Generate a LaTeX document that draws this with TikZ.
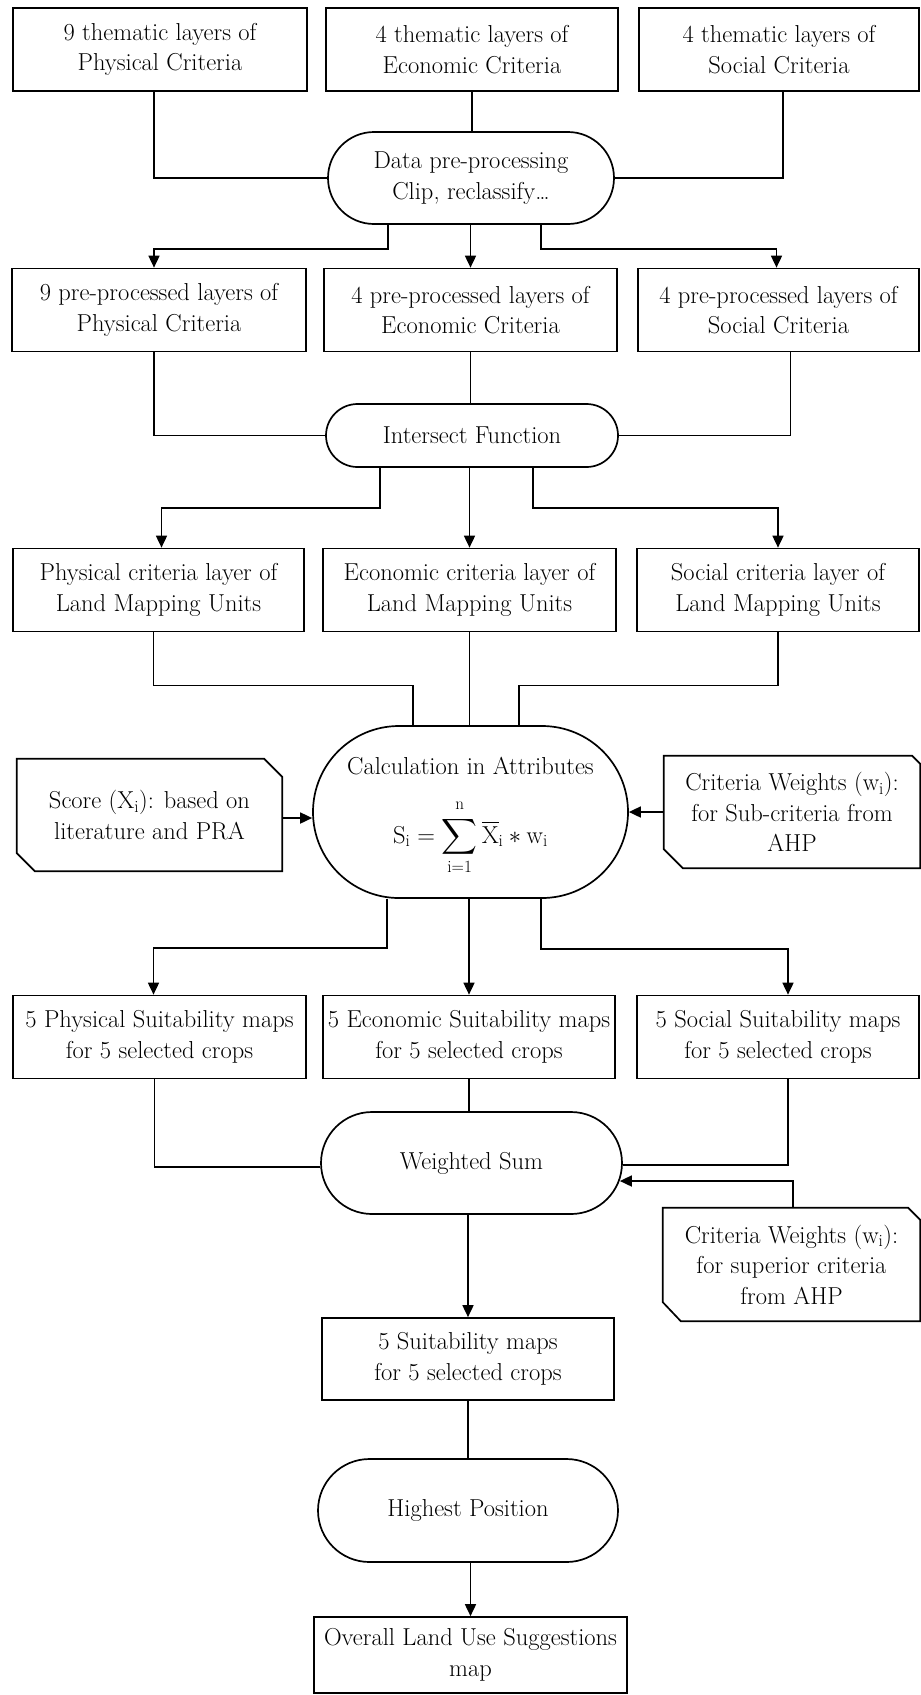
\RequirePackage{fix-cm}
\documentclass[tikz,border=0pt]{standalone}
\usepackage{exscale}
\usepackage{fontspec}
\usetikzlibrary{arrows.meta,calc}
\begin{document}
\begin{tikzpicture}[x=1pt,y=-1pt,
  every node/.style={font=\fontsize{24.5}{30.5}\selectfont, align=center, inner sep=0pt},
  box/.style={draw, line width=1.7pt, minimum height=83pt},
  term/.style={draw, line width=1.7pt},
  line/.style={line width=1.7pt},
  arr/.style={line width=1.7pt, -{Triangle[width=11pt,length=12pt]}},
  cardline/.style={line width=1.7pt, line join=miter}
]
\useasboundingbox (0,0) rectangle (921,1695);

% Row 1
\node[box, minimum width=294pt] (a1) at (160,49.5) {9 thematic layers of\\Physical Criteria};
\node[box, minimum width=292pt] (b1) at (472,49.5) {4 thematic layers of\\Economic Criteria};
\node[box, minimum width=280pt] (c1) at (779,49.5) {4 thematic layers of\\Social Criteria};

\node[term, minimum width=286pt, minimum height=92pt, rounded corners=46pt] (dp) at (471,178) {Data pre-processing\\Clip, reclassify\ldots};

% Row 2
\node[box, minimum width=294pt] (a2) at (159,310) {9 pre-processed layers of\\Physical Criteria};
\node[box, minimum width=293pt] (b2) at (470.5,310) {4 pre-processed layers of\\Economic Criteria};
\node[box, minimum width=281pt] (c2) at (778.5,310) {4 pre-processed layers of\\Social Criteria};

\node[term, minimum width=292pt, minimum height=63pt, rounded corners=31.5pt] (isf) at (472,435.5) {Intersect Function};

% Row 3
\node[box, minimum width=291pt] (a3) at (158.5,590) {Physical criteria layer of\\Land Mapping Units};
\node[box, minimum width=293pt] (b3) at (469.5,590) {Economic criteria layer of\\Land Mapping Units};
\node[box, minimum width=282pt] (c3) at (778,590) {Social criteria layer of\\Land Mapping Units};

\node[term, minimum width=315pt, minimum height=172pt, rounded corners=86pt] (cia) at (470.5,812) {};
\node (ciat) at (470.5,766) {Calculation in Attributes};
\node (ciaf) at (470.5,837)
  {$\displaystyle \mathrm{S_i} = \sum_{\mathrm{i=1}}^{\raisebox{3pt}{$\scriptstyle\mathrm{n}$}} \overline{\mathrm{X}}_{\mathrm{i}} * \mathrm{w_i}$};

% Cards
\node[minimum width=265pt, minimum height=112pt] (sc) at (149.5,815) {Score (X\textsubscript{i}): based on\\literature and PRA};
\draw[cardline] (sc.north west) -- ([xshift=-18pt]sc.north east) -- ([yshift=-18pt]sc.north east)
  -- (sc.south east) -- ([xshift=18pt]sc.south west) -- ([yshift=18pt]sc.south west) -- cycle;

\node[minimum width=256pt, minimum height=112pt] (cw1) at (792,812) {Criteria Weights (w\textsubscript{i}):\\for Sub-criteria from\\AHP};
\draw[cardline] (cw1.north west) -- ([xshift=-8pt]cw1.north east) -- ([yshift=-8pt]cw1.north east)
  -- (cw1.south east) -- ([xshift=19pt]cw1.south west) -- ([yshift=19pt]cw1.south west) -- cycle;

% Row 4
\node[box, minimum width=293pt] (a4) at (159.5,1037) {5 Physical Suitability maps\\for 5 selected crops};
\node[box, minimum width=292pt] (b4) at (469,1037) {5 Economic Suitability maps\\for 5 selected crops};
\node[box, minimum width=282pt] (c4) at (778,1037) {5 Social Suitability maps\\for 5 selected crops};

\node[term, minimum width=301pt, minimum height=102pt, rounded corners=51pt] (ws) at (471.5,1163) {Weighted Sum};

\node[minimum width=257pt, minimum height=113pt] (cw2) at (791.5,1264.5) {Criteria Weights (w\textsubscript{i}):\\for superior criteria\\from AHP};
\draw[cardline] (cw2.north west) -- ([xshift=-12pt]cw2.north east) -- ([yshift=-12pt]cw2.north east)
  -- (cw2.south east) -- ([xshift=18pt]cw2.south west) -- ([yshift=19pt]cw2.south west) -- cycle;

\node[box, minimum width=292pt, minimum height=82pt] (s5) at (468,1359) {5 Suitability maps\\for 5 selected crops};
\node[term, minimum width=300pt, minimum height=103pt, rounded corners=51.5pt] (hp) at (468,1510.5) {Highest Position};
\node[box, minimum width=313pt, minimum height=76pt] (ov) at (470.5,1655) {Overall Land Use Suggestions\\map};

% Connectors: row 1 -> data pre-processing
\draw[line] ([xshift=-6pt]a1.south) |- (dp.west);
\draw[line] (b1.south) -- (b1.south |- dp.north);
\draw[line] ([xshift=4pt]c1.south) |- (dp.east);
% data pre-processing -> row 2
\draw[arr] ([xshift=-83pt]dp.south) -- ++(0,24) -| ([xshift=-5pt]a2.north);
\draw[arr] (dp.south -| b2.north) -- (b2.north);
\draw[arr] ([xshift=70pt]dp.south) -- ++(0,24) -| ([xshift=-2pt]c2.north);
% row 2 -> intersect
\draw[line] ([xshift=-5pt]a2.south) |- (isf.west);
\draw[line] (b2.south) -- (b2.south |- isf.north);
\draw[line] ([xshift=12pt]c2.south) |- (isf.east);
% intersect -> row 3
\draw[arr] ([xshift=-92pt]isf.south) -- ++(0,40) -| ([xshift=3pt]a3.north);
\draw[arr] (isf.south -| b3.north) -- (b3.north);
\draw[arr] ([xshift=61pt]isf.south) -- ++(0,40) -| (c3.north);
% row 3 -> calculation
\draw[line] ([xshift=-5pt]a3.south) -- ++(0,53) -| ([xshift=-57.5pt]cia.north);
\draw[line] (b3.south) -- (b3.south |- cia.north);
\draw[line] (c3.south) -- ++(0,53) -| ([xshift=48.5pt]cia.north);
% cards -> calculation
\draw[arr] ([yshift=-3pt]sc.east) -- ([yshift=-3pt]sc.east -| cia.west);
\draw[arr] (cw1.west) -- (cw1.west -| cia.east);
% calculation -> row 4
\draw[arr] ([xshift=-83.5pt]cia.south) -- ++(0,49) -| ([xshift=-6pt]a4.north);
\draw[arr] (cia.south -| b4.north) -- (b4.north);
\draw[arr] ([xshift=70.5pt]cia.south) -- ++(0,50) -| ([xshift=10pt]c4.north);
% row 4 -> weighted sum
\draw[line] ([xshift=-5pt]a4.south) |- ([yshift=-4pt]ws.west);
\draw[line] (b4.south) -- (b4.south |- ws.north);
\draw[line] ([xshift=10pt]c4.south) |- ([yshift=-2pt]ws.east);
\draw[arr] ([xshift=1.5pt]cw2.north) |- ([xshift=-3pt,yshift=-18pt]ws.east);
% weighted sum -> suitability -> highest -> overall
\draw[arr] (ws.south -| s5.north) -- (s5.north);
\draw[line] (s5.south) -- (s5.south |- hp.north);
\draw[arr] (hp.south -| ov.north) -- (ov.north);
\end{tikzpicture}
\end{document}
